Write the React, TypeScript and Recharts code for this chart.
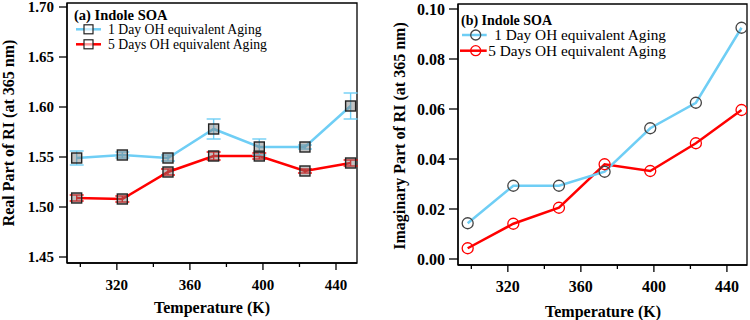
import React from "react"
import {
  LineChart,
  Line,
  XAxis,
  YAxis,
  ErrorBar,
  ReferenceArea,
  Label
} from "recharts"

// temperatures (K) at which RI was measured
const temperatures = [298, 323, 348, 373, 398, 423, 448]

// (a) real part of RI at 365 nm
const realDay1 = [1.549, 1.552, 1.549, 1.578, 1.56, 1.56, 1.601]
const realDay1Err = [0.007, 0.003, 0.003, 0.01, 0.008, 0.002, 0.013]
const realDay5 = [1.509, 1.508, 1.535, 1.551, 1.551, 1.536, 1.544]
const realDay5Err = [0.003, 0.003, 0.003, 0.004, 0.003, 0.002, 0.003]

// (b) imaginary part of RI at 365 nm
const imagDay1 = [0.0143, 0.0293, 0.0293, 0.0349, 0.0523, 0.0625, 0.0925]
const imagDay5 = [0.0043, 0.0141, 0.0205, 0.0379, 0.0352, 0.0463, 0.0596]

const xTicks = [300, 320, 340, 360, 380, 400, 420, 440]
const xMajorTicks = [320, 360, 400, 440]
const realTicks = [1.45, 1.5, 1.55, 1.6, 1.65, 1.7]
const imagTicks = [0, 0.02, 0.04, 0.06, 0.08, 0.1]

const seriesNames = ["1 Day OH equivalent Aging", "5 Days OH equivalent Aging"]

const realData = temperatures.map((t, i) => ({
  t,
  day1: realDay1[i],
  day1Err: realDay1Err[i],
  day5: realDay5[i],
  day5Err: realDay5Err[i]
}))

const imagData = temperatures.map((t, i) => ({
  t,
  day1: imagDay1[i],
  day5: imagDay5[i]
}))

const FONT = '"Liberation Serif", "Times New Roman", serif'
const BLUE = "#6fcef5"
const RED = "#ff0000"
const AXIS = "#000"

const XTick = (props: any) => {
  const { x, y, payload, fontSize } = props
  const major = xMajorTicks.includes(payload.value)
  return (
    <g>
      <line x1={x} x2={x} y1={y} y2={y + (major ? 7 : 4)} stroke={AXIS} strokeWidth={1.3} />
      {major && (
        <text
          x={x}
          y={y + 27}
          textAnchor="middle"
          fontFamily={FONT}
          fontWeight="bold"
          fontSize={fontSize}
          fill="#000"
        >
          {payload.value}
        </text>
      )}
    </g>
  )
}

const squareDot = (props: any) => {
  const { cx, cy, index } = props
  if (cx == null || cy == null) return <g key={index} />
  return (
    <rect
      key={index}
      x={cx - 5}
      y={cy - 5}
      width={10}
      height={10}
      fill="rgba(120,120,120,0.45)"
      stroke="#222"
      strokeWidth={1.4}
    />
  )
}

const circleDot = (color: string) => (props: any) => {
  const { cx, cy, index } = props
  if (cx == null || cy == null) return <g key={index} />
  return <circle key={index} cx={cx} cy={cy} r={5.5} fill="none" stroke={color} strokeWidth={1.3} />
}

const yTitle = (text: string, x: number, cy: number) => () => (
  <text
    transform={`translate(${x}, ${cy}) rotate(-90)`}
    textAnchor="middle"
    dominantBaseline="central"
    fontFamily={FONT}
    fontWeight="bold"
    fontSize={16}
    fill="#000"
  >
    {text}
  </text>
)

const xTitle = (cx: number, baseline: number) => () => (
  <text
    x={cx}
    y={baseline}
    textAnchor="middle"
    fontFamily={FONT}
    fontWeight="bold"
    fontSize={16}
    fill="#000"
  >
    Temperature (K)
  </text>
)

const realDomain = [1.444, 1.704]
const realX = [292.7, 451.5]
const imagDomain = [-0.0024, 0.102]
const imagX = [292.7, 451]

const RealChart = () => (
  <div style={{ position: "relative", width: 375, height: 320 }}>
    <LineChart
      width={375}
      height={320}
      data={realData}
      margin={{ top: 3, right: 18, bottom: 0, left: 0 }}
    >
      <XAxis
        dataKey="t"
        type="number"
        domain={realX}
        ticks={xTicks}
        interval={0}
        height={57}
        tickSize={0}
        tickMargin={0}
        tickLine={false}
        tick={<XTick fontSize={15} />}
        stroke={AXIS}
        strokeWidth={1.3}
        allowDataOverflow
      >
        <Label content={xTitle(212, 313)} />
      </XAxis>
      <YAxis
        type="number"
        domain={realDomain}
        ticks={realTicks}
        interval={0}
        width={67}
        tickSize={8}
        tickMargin={5}
        tickFormatter={(v: number) => v.toFixed(2)}
        tick={{ fontFamily: FONT, fontWeight: "bold", fontSize: 15, fill: "#000" }}
        tickLine={{ stroke: AXIS, strokeWidth: 1.3 }}
        stroke={AXIS}
        strokeWidth={1.3}
        allowDataOverflow
      >
        <Label content={yTitle("Real Part of RI (at 365 nm)", 8, 133)} />
      </YAxis>
      <ReferenceArea
        x1={realX[0]}
        x2={realX[1]}
        y1={realDomain[0]}
        y2={realDomain[1]}
        fill="none"
        stroke={AXIS}
        strokeWidth={1.3}
        ifOverflow="visible"
      />
      <Line
        dataKey="day5"
        stroke={RED}
        strokeWidth={2.5}
        dot={squareDot}
        isAnimationActive={false}
      >
        <ErrorBar dataKey="day5Err" direction="y" width={7} stroke={RED} strokeWidth={1.4} />
      </Line>
      <Line
        dataKey="day1"
        stroke={BLUE}
        strokeWidth={2.5}
        dot={squareDot}
        isAnimationActive={false}
      >
        <ErrorBar dataKey="day1Err" direction="y" width={7} stroke={BLUE} strokeWidth={1.4} />
      </Line>
    </LineChart>
    <svg
      width={375}
      height={60}
      style={{ position: "absolute", left: 0, top: 0, pointerEvents: "none" }}
    >
      <text x={74} y={20} fontFamily={FONT} fontWeight="bold" fontSize={14.5} fill="#000">
        (a) Indole SOA
      </text>
      {[BLUE, RED].map((c, i) => {
        const cy = 29.3 + i * 15
        return (
          <g key={i}>
            <line x1={76} x2={101} y1={cy} y2={cy} stroke={c} strokeWidth={2.5} />
            <rect x={84} y={cy - 4.5} width={9} height={9} fill="rgba(255,255,255,0.6)" stroke="#222" strokeWidth={1.2} />
            <text x={108} y={cy + 4.8} fontFamily={FONT} fontSize={13.7} fill="#000">
              {seriesNames[i]}
            </text>
          </g>
        )
      })}
    </svg>
  </div>
)

const ImagChart = () => (
  <div style={{ position: "relative", width: 375, height: 320 }}>
    <LineChart
      width={375}
      height={320}
      data={imagData}
      margin={{ top: 4, right: 3, bottom: 0, left: 0 }}
    >
      <XAxis
        dataKey="t"
        type="number"
        domain={imagX}
        ticks={xTicks}
        interval={0}
        height={55}
        tickSize={0}
        tickMargin={0}
        tickLine={false}
        tick={<XTick fontSize={16} />}
        stroke={AXIS}
        strokeWidth={1.3}
        allowDataOverflow
      >
        <Label content={xTitle(228, 316.5)} />
      </XAxis>
      <YAxis
        type="number"
        domain={imagDomain}
        ticks={imagTicks}
        interval={0}
        width={83}
        tickSize={9}
        tickMargin={4}
        tickFormatter={(v: number) => v.toFixed(2)}
        tick={{ fontFamily: FONT, fontWeight: "bold", fontSize: 16, fill: "#000" }}
        tickLine={{ stroke: AXIS, strokeWidth: 1.3 }}
        stroke={AXIS}
        strokeWidth={1.3}
        allowDataOverflow
      >
        <Label content={yTitle("Imaginary Part of RI (at 365 nm)", 24, 136)} />
      </YAxis>
      <ReferenceArea
        x1={imagX[0]}
        x2={imagX[1]}
        y1={imagDomain[0]}
        y2={imagDomain[1]}
        fill="none"
        stroke={AXIS}
        strokeWidth={1.3}
        ifOverflow="visible"
      />
      <Line
        dataKey="day5"
        stroke={RED}
        strokeWidth={2.5}
        dot={circleDot(RED)}
        isAnimationActive={false}
      />
      <Line
        dataKey="day1"
        stroke={BLUE}
        strokeWidth={2.5}
        dot={circleDot("#444")}
        isAnimationActive={false}
      />
    </LineChart>
    <svg
      width={375}
      height={62}
      style={{ position: "absolute", left: 0, top: 0, pointerEvents: "none" }}
    >
      <text x={86} y={25} fontFamily={FONT} fontWeight="bold" fontSize={14} fill="#000">
        (b) Indole SOA
      </text>
      {[BLUE, RED].map((c, i) => {
        const cy = 35 + i * 15.7
        return (
          <g key={i}>
            <line x1={i === 0 ? 87 : 85} x2={111.7} y1={cy} y2={cy} stroke={c} strokeWidth={2.5} />
            <circle cx={100.7} cy={cy} r={5} fill="none" stroke={i === 0 ? "#444" : RED} strokeWidth={1.3} />
            <text x={i === 0 ? 119.3 : 113.3} y={cy + 5} fontFamily={FONT} fontSize={15.3} fill="#000">
              {seriesNames[i]}
            </text>
          </g>
        )
      })}
    </svg>
  </div>
)

export default function App() {
  return (
    <div
      style={{
        position: "absolute",
        left: 0,
        top: 0,
        width: 750,
        height: 320,
        display: "flex",
        background: "#fff"
      }}
    >
      <RealChart />
      <ImagChart />
    </div>
  )
}
